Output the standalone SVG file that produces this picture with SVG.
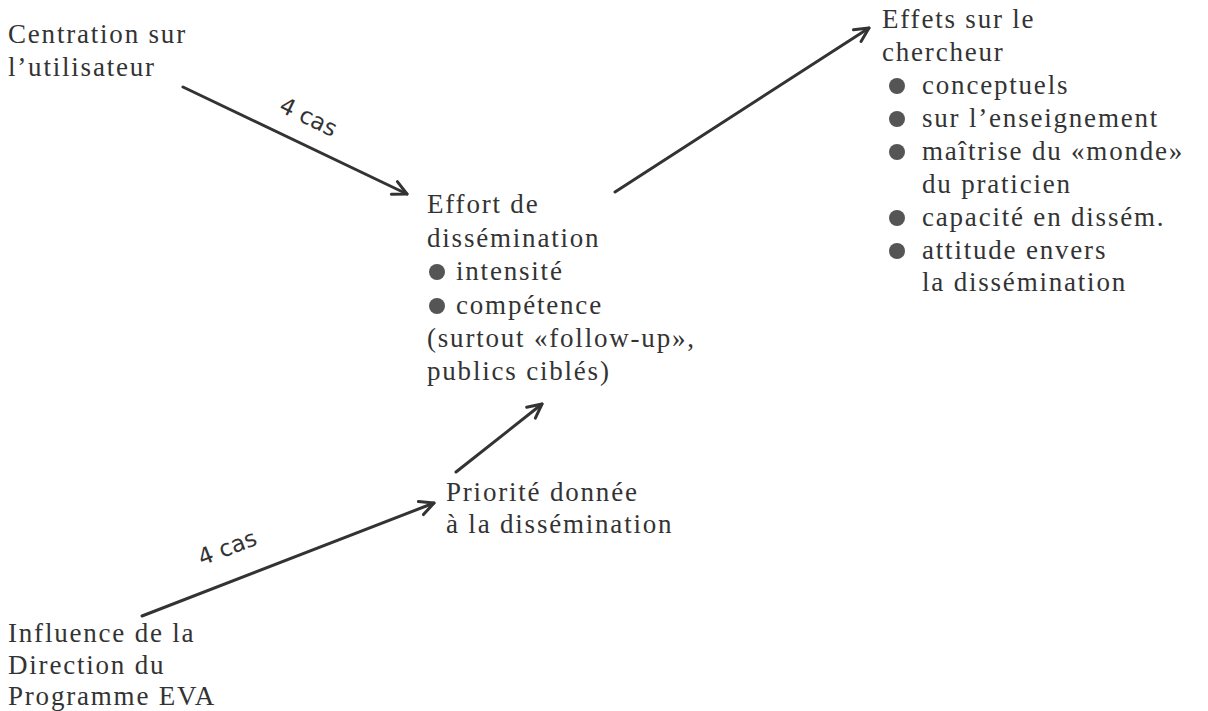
<svg xmlns="http://www.w3.org/2000/svg" width="1208" height="711" viewBox="0 0 1208 711">
<style>
.t{font-family:"Liberation Serif","Times New Roman",serif;font-size:27px;fill:#333;letter-spacing:1.8px}
.l{font-family:"DejaVu Sans","Liberation Sans",sans-serif;font-size:23px;fill:#333}
.c{stroke:#333;stroke-width:3;fill:none;stroke-linecap:round;stroke-linejoin:round}
.b{fill:#555}
</style>
<defs>
<marker id="ah" viewBox="0 0 20 20" refX="18" refY="10" markerWidth="20" markerHeight="20" markerUnits="userSpaceOnUse" orient="auto">
<path d="M4,3 L18,10 L4,17" fill="none" stroke="#333" stroke-width="3" stroke-linecap="round" stroke-linejoin="round"/>
</marker>
</defs>
<rect width="1208" height="711" fill="#fff"/>
<g id="connectors">
<line class="c" x1="183" y1="87" x2="407" y2="194" marker-end="url(#ah)"/>
<line class="c" x1="615" y1="192" x2="869" y2="28" marker-end="url(#ah)"/>
<line class="c" x1="456" y1="472" x2="542" y2="404" marker-end="url(#ah)"/>
<line class="c" x1="142" y1="616" x2="434" y2="503" marker-end="url(#ah)"/>
<text class="l" transform="translate(305,124) rotate(26)" text-anchor="middle">4 cas</text>
<text class="l" transform="translate(230,555) rotate(-21)" text-anchor="middle">4 cas</text>
</g>
<g id="centration">
<text class="t" x="8" y="43">Centration sur</text>
<text class="t" x="8" y="76">l’utilisateur</text>
</g>
<g id="effort">
<text class="t" x="427" y="213">Effort de</text>
<text class="t" x="427" y="247">dissémination</text>
<circle class="b" cx="437" cy="272" r="8"/>
<text class="t" x="456" y="280">intensité</text>
<circle class="b" cx="437" cy="306" r="8"/>
<text class="t" x="456" y="314">compétence</text>
<text class="t" x="427" y="347">(surtout «follow-up»,</text>
<text class="t" x="427" y="380">publics ciblés)</text>
</g>
<g id="effets">
<text class="t" x="882" y="28">Effets sur le</text>
<text class="t" x="882" y="61">chercheur</text>
<circle class="b" cx="897" cy="86" r="8"/>
<text class="t" x="922" y="94">conceptuels</text>
<circle class="b" cx="897" cy="119" r="8"/>
<text class="t" x="922" y="127">sur l’enseignement</text>
<circle class="b" cx="897" cy="152" r="8"/>
<text class="t" x="922" y="160">maîtrise du «monde»</text>
<text class="t" x="922" y="193">du praticien</text>
<circle class="b" cx="897" cy="218" r="8"/>
<text class="t" x="922" y="226">capacité en dissém.</text>
<circle class="b" cx="897" cy="251" r="8"/>
<text class="t" x="922" y="259">attitude envers</text>
<text class="t" x="922" y="291">la dissémination</text>
</g>
<g id="priorite">
<text class="t" x="446" y="501">Priorité donnée</text>
<text class="t" x="446" y="533">à la dissémination</text>
</g>
<g id="influence">
<text class="t" x="8" y="642">Influence de la</text>
<text class="t" x="8" y="674">Direction du</text>
<text class="t" x="8" y="705">Programme EVA</text>
</g>
</svg>
